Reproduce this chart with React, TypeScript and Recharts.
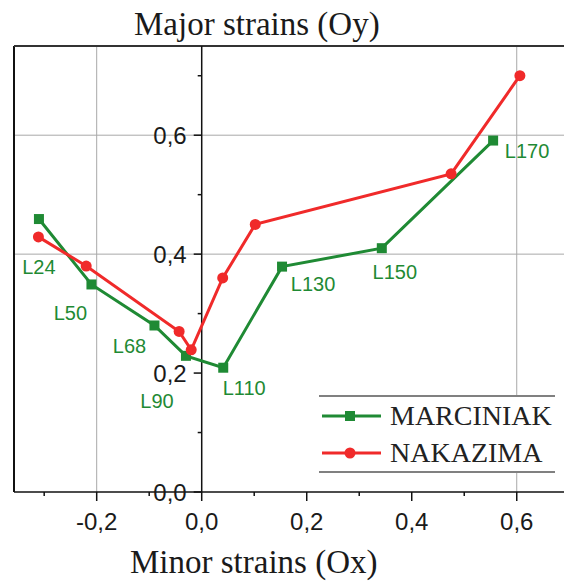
import { ScatterChart, Scatter, XAxis, YAxis, ReferenceLine, ReferenceDot, Legend } from "recharts"

// MARCINIAK test points (green squares)
const MARC_X = [-0.31, -0.21, -0.09, -0.03, 0.041, 0.153, 0.343, 0.555]
const MARC_Y = [0.459, 0.349, 0.28, 0.229, 0.209, 0.379, 0.41, 0.591]
const MARC_LABELS = ["L24", "L50", "L68", "L90", "L110", "L130", "L150", "L170"]

// NAKAZIMA test points (red circles)
const NAKA_X = [-0.311, -0.22, -0.043, -0.02, 0.04, 0.102, 0.475, 0.606]
const NAKA_Y = [0.429, 0.38, 0.27, 0.239, 0.36, 0.45, 0.535, 0.7]

// axes
const X_MIN = -0.3575
const X_MAX = 0.69
const Y_MIN = 0
const Y_MAX = 0.75
const X_TICKS = [-0.3, -0.2, -0.1, 0, 0.1, 0.2, 0.3, 0.4, 0.5, 0.6]
const X_TICK_LABELS = ["", "-0,2", "", "0,0", "", "0,2", "", "0,4", "", "0,6"]
const Y_TICKS = [0, 0.1, 0.2, 0.3, 0.4, 0.5, 0.6, 0.7]
const Y_TICK_LABELS = ["0,0", "", "0,2", "", "0,4", "", "0,6", ""]
const X_GRID = [-0.2, 0.6]
const Y_GRID = [0.4, 0.6]

// label placement around each green point (dx, dy)
const LABEL_OFFSETS = [
    [0, 48],
    [-21, 28],
    [-25, 20],
    [-29, 45],
    [21, 20],
    [31, 17],
    [13, 24],
    [34, 10],
]

const GREEN = "#1f8a34"
const RED = "#f02a2a"
const SANS = "Liberation Sans"
const SERIF = "Liberation Serif"

const marcData = MARC_X.map((x, i) => ({ x, y: MARC_Y[i], label: MARC_LABELS[i] }))
const nakaData = NAKA_X.map((x, i) => ({ x, y: NAKA_Y[i] }))

function SquarePoint(props: any) {
    const { cx, cy, payload } = props
    const i = MARC_LABELS.indexOf(payload.label)
    const [dx, dy] = LABEL_OFFSETS[i] ?? [0, 0]
    return (
        <g>
            <rect x={cx - 5} y={cy - 5} width={10} height={10} fill={GREEN} />
            <text
                x={cx + dx}
                y={cy + dy}
                dy="0.36em"
                textAnchor="middle"
                fontSize={20}
                fontFamily={SANS}
                fill={GREEN}
            >
                {payload.label}
            </text>
        </g>
    )
}

function CirclePoint(props: any) {
    const { cx, cy } = props
    return <circle cx={cx} cy={cy} r={5.5} fill={RED} />
}

function XTick(props: any) {
    const { x, y, payload } = props
    const label = X_TICK_LABELS[X_TICKS.indexOf(payload.value)] ?? ""
    const len = label ? 9 : 4
    return (
        <g>
            <line x1={x} x2={x} y1={y} y2={y + len} stroke="#111" strokeWidth={1.5} />
            {label && (
                <text x={x} y={y + 38} textAnchor="middle" fontSize={24} fontFamily={SANS} fill="#1a1a1a">
                    {label}
                </text>
            )}
        </g>
    )
}

function YTick({ cx, cy, label }: { cx: number; cy: number; label: string }) {
    const len = label ? 8 : 4
    return (
        <g>
            <line x1={cx - len} x2={cx} y1={cy} y2={cy} stroke="#111" strokeWidth={1.5} />
            {label && (
                <text x={cx - 15} y={cy} dy="0.36em" textAnchor="end" fontSize={24} fontFamily={SANS} fill="#1a1a1a">
                    {label}
                </text>
            )}
        </g>
    )
}

const SERIES = [
    { name: "MARCINIAK", color: GREEN, square: true },
    { name: "NAKAZIMA", color: RED, square: false },
]

function renderLegend() {
    return (
        <div
            style={{
                position: "relative",
                width: 236,
                height: 78,
                boxSizing: "border-box",
                borderTop: "2px solid #808080",
                borderBottom: "2px solid #808080",
                background: "#fff",
            }}
        >
            {SERIES.map((s, i) => (
                <div key={s.name} style={{ position: "absolute", left: 0, top: 19 + i * 37 - 14, height: 28, width: 236 }}>
                    <svg width={66} height={28} style={{ position: "absolute", left: 0, top: 0 }}>
                        <line x1={3} x2={62} y1={14} y2={14} stroke={s.color} strokeWidth={3} />
                        {s.square ? (
                            <rect x={26} y={9} width={10} height={10} fill={s.color} />
                        ) : (
                            <circle cx={31} cy={14} r={5.5} fill={s.color} />
                        )}
                    </svg>
                    <span
                        style={{
                            position: "absolute",
                            left: 71,
                            top: 0,
                            fontFamily: SERIF,
                            fontSize: 28,
                            lineHeight: "28px",
                            color: "#222",
                            whiteSpace: "nowrap",
                        }}
                    >
                        {s.name}
                    </span>
                </div>
            ))}
        </div>
    )
}

export default function App() {
    return (
        <div style={{ position: "absolute", left: 0, top: 0, width: 564, height: 582, background: "#fff" }}>
            <div
                style={{
                    position: "absolute",
                    left: 134,
                    top: 8,
                    fontFamily: SERIF,
                    fontSize: 33,
                    lineHeight: "33px",
                    color: "#1a1a1a",
                    whiteSpace: "nowrap",
                }}
            >
                Major strains (Oy)
            </div>
            <ScatterChart width={564} height={582} margin={{ top: 46, right: 0, left: 14, bottom: 60 }}>
                <XAxis
                    type="number"
                    dataKey="x"
                    domain={[X_MIN, X_MAX]}
                    allowDataOverflow
                    ticks={X_TICKS}
                    interval={0}
                    tick={<XTick />}
                    tickLine={false}
                    tickSize={0}
                    tickMargin={0}
                    axisLine={{ stroke: "#111", strokeWidth: 1.5 }}
                    height={30}
                />
                <YAxis type="number" dataKey="y" domain={[Y_MIN, Y_MAX]} allowDataOverflow hide />
                {X_GRID.map((v) => (
                    <ReferenceLine key={"gx" + v} x={v} stroke="#a8a8a8" strokeWidth={1} />
                ))}
                {Y_GRID.map((v) => (
                    <ReferenceLine key={"gy" + v} y={v} stroke="#a8a8a8" strokeWidth={1} />
                ))}
                <ReferenceLine x={X_MIN} stroke="#111" strokeWidth={2} ifOverflow="visible" />
                <ReferenceLine y={Y_MAX} stroke="#333" strokeWidth={2} ifOverflow="visible" />
                <ReferenceLine x={0} stroke="#111" strokeWidth={1.5} />
                {Y_TICKS.map((v, i) => (
                    <ReferenceDot
                        key={"yt" + v}
                        x={0}
                        y={v}
                        r={0}
                        ifOverflow="visible"
                        shape={(p: any) => <YTick cx={p.cx} cy={p.cy} label={Y_TICK_LABELS[i]} />}
                    />
                ))}
                <Scatter
                    name="MARCINIAK"
                    data={marcData}
                    line={{ stroke: GREEN, strokeWidth: 3 }}
                    shape={<SquarePoint />}
                    isAnimationActive={false}
                />
                <Scatter
                    name="NAKAZIMA"
                    data={nakaData}
                    line={{ stroke: RED, strokeWidth: 3 }}
                    shape={<CirclePoint />}
                    isAnimationActive={false}
                />
                <Legend
                    layout="vertical"
                    align="center"
                    verticalAlign="middle"
                    content={renderLegend}
                    wrapperStyle={{ left: 319, top: 395, width: 236, height: 78 }}
                />
            </ScatterChart>
            <div
                style={{
                    position: "absolute",
                    left: 130,
                    top: 546,
                    fontFamily: SERIF,
                    fontSize: 33,
                    lineHeight: "33px",
                    color: "#1a1a1a",
                    whiteSpace: "nowrap",
                }}
            >
                Minor strains (Ox)
            </div>
        </div>
    )
}
